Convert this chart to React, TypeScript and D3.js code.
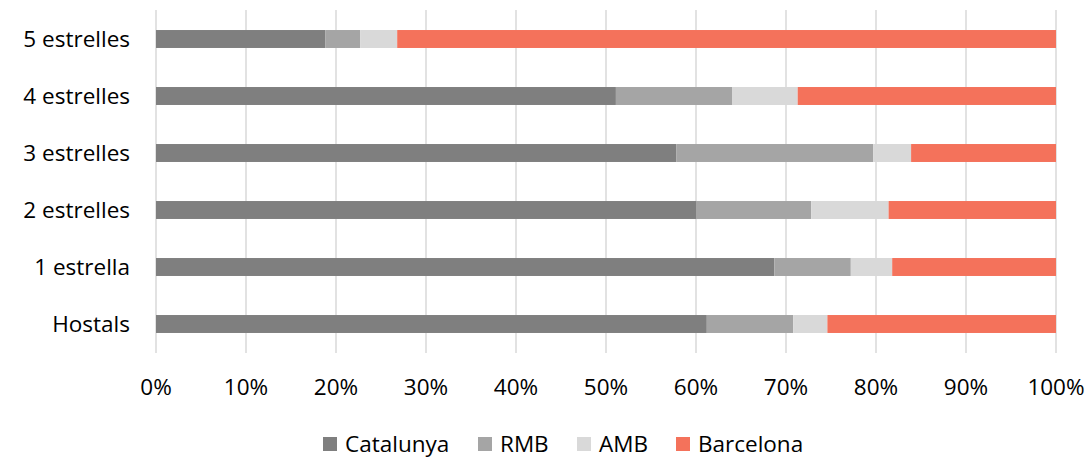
import React from "react";
import * as d3 from "d3";

const categories = ["5 estrelles", "4 estrelles", "3 estrelles", "2 estrelles", "1 estrella", "Hostals"];
const seriesNames = ["Catalunya", "RMB", "AMB", "Barcelona"];
const catalunya = [18.8, 51.1, 57.8, 60.0, 68.7, 61.2];
const rmb = [3.9, 12.9, 21.9, 12.8, 8.5, 9.6];
const amb = [4.1, 7.3, 4.2, 8.6, 4.6, 3.8];
const barcelona = [73.2, 28.7, 16.1, 18.6, 18.2, 25.4];
const tickValues = [0, 10, 20, 30, 40, 50, 60, 70, 80, 90, 100];
const colors = ["#7f7f7f", "#a5a5a5", "#d9d9d9", "#f4725b"];

const W = 1091;
const H = 458;
const FONT = "'Open Sans', sans-serif";
const FS = 22.5;

export default function App() {
  const x = d3.scaleLinear().domain([0, 100]).range([156, 1056]);
  const y = d3.scaleBand().domain(categories).range([10.5, 352.5]).paddingInner(0.685).paddingOuter(0.3425);
  const rows = categories.map((c, i) => ({
    cat: c,
    Catalunya: catalunya[i],
    RMB: rmb[i],
    AMB: amb[i],
    Barcelona: barcelona[i],
  }));
  const stacked = d3.stack<any>().keys(seriesNames).offset(d3.stackOffsetExpand)(rows);

  const legendX = [323, 478, 577, 676];

  return (
    <svg width={W} height={H} style={{ position: "absolute", left: 0, top: 0, background: "#fff" }}>
      <rect width={W} height={H} fill="#fff" />
      {tickValues.map((t) => (
        <line key={t} x1={x(t)} x2={x(t)} y1={10} y2={353} stroke="#d9d9d9" strokeWidth={1.5} />
      ))}
      {stacked.map((s, si) => (
        <g key={s.key} fill={colors[si]}>
          {s.map((d, i) => (
            <rect
              key={i}
              x={x(d[0] * 100)}
              width={x(d[1] * 100) - x(d[0] * 100)}
              y={y(categories[i])!}
              height={y.bandwidth()}
            />
          ))}
        </g>
      ))}
      {categories.map((c) => (
        <text
          key={c}
          x={130}
          y={y(c)! + y.bandwidth() / 2 + 8}
          textAnchor="end"
          fontFamily={FONT}
          fontSize={FS}
          fill="#000"
        >
          {c}
        </text>
      ))}
      {tickValues.map((t) => (
        <text key={t} x={x(t)} y={395} textAnchor="middle" fontFamily={FONT} fontSize={FS} fill="#000">
          {t}%
        </text>
      ))}
      {seriesNames.map((n, i) => (
        <g key={n}>
          <rect x={legendX[i]} y={437} width={14} height={14} fill={colors[i]} />
          <text x={legendX[i] + 22} y={451.5} fontFamily={FONT} fontSize={FS} fill="#000">
            {n}
          </text>
        </g>
      ))}
    </svg>
  );
}
